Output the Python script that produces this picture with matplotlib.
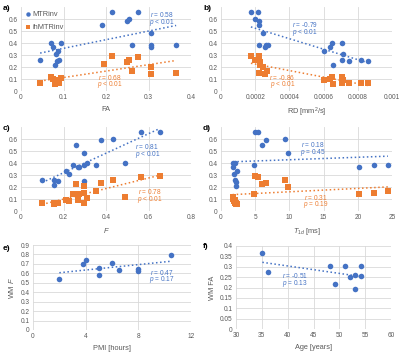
import numpy as np
import matplotlib
matplotlib.use("Agg")
import matplotlib.pyplot as plt

plt.rcParams['font.family'] = ['Liberation Sans', 'DejaVu Sans']
plt.rcParams['mathtext.fontset'] = 'custom'
plt.rcParams['mathtext.rm'] = 'Liberation Sans'
plt.rcParams['mathtext.it'] = 'Liberation Sans:italic'

BLUE = '#4472C4'
ORANGE = '#ED7D31'
GREY = '#595959'
FS = 4.7   # ticks, notes
LFS = 5.3  # axis labels, legend

# a) FA
fa_mtr_x = [0.045, 0.07, 0.075, 0.08, 0.083, 0.085, 0.088, 0.09, 0.093, 0.19, 0.215, 0.25, 0.255, 0.26, 0.275, 0.305, 0.305, 0.305, 0.365]
fa_mtr_y = [0.26, 0.40, 0.37, 0.22, 0.31, 0.25, 0.33, 0.26, 0.40, 0.55, 0.66, 0.585, 0.60, 0.385, 0.66, 0.485, 0.37, 0.38, 0.385]
fa_ih_x = [0.045, 0.07, 0.075, 0.08, 0.08, 0.085, 0.09, 0.09, 0.093, 0.195, 0.215, 0.25, 0.255, 0.26, 0.275, 0.305, 0.305, 0.365]
fa_ih_y = [0.07, 0.12, 0.10, 0.07, 0.06, 0.09, 0.08, 0.07, 0.11, 0.225, 0.29, 0.24, 0.26, 0.17, 0.285, 0.20, 0.145, 0.15]

# b) RD
rd_mtr_x = [0.000175, 0.000215, 0.000197, 0.00022, 0.00022, 0.000248, 0.000222, 0.000258, 0.000265, 0.000272, 0.000605, 0.00064, 0.00065, 0.000655, 0.00071, 0.000715, 0.000705, 0.00075, 0.00082, 0.00086]
rd_mtr_y = [0.66, 0.66, 0.60, 0.585, 0.55, 0.485, 0.385, 0.37, 0.38, 0.385, 0.33, 0.37, 0.40, 0.22, 0.40, 0.31, 0.255, 0.25, 0.26, 0.25]
rd_ih_x = [0.000175, 0.000197, 0.00022, 0.00023, 0.00023, 0.000222, 0.000248, 0.000258, 0.00027, 0.000605, 0.00064, 0.00065, 0.000655, 0.00071, 0.000715, 0.00071, 0.00075, 0.00082, 0.00086]
rd_ih_y = [0.29, 0.26, 0.29, 0.24, 0.22, 0.15, 0.20, 0.14, 0.165, 0.09, 0.10, 0.12, 0.06, 0.115, 0.09, 0.07, 0.07, 0.07, 0.07]

# c) F
f_x = [0.10, 0.153, 0.157, 0.176, 0.212, 0.228, 0.243, 0.257, 0.267, 0.273, 0.296, 0.296, 0.296, 0.312, 0.352, 0.376, 0.435, 0.49, 0.563, 0.652]
f_mtr_y = [0.26, 0.215, 0.26, 0.25, 0.33, 0.31, 0.38, 0.55, 0.37, 0.37, 0.385, 0.485, 0.25, 0.40, 0.385, 0.59, 0.60, 0.40, 0.66, 0.66]
f_ih_y = [0.065, 0.065, 0.06, 0.065, 0.09, 0.085, 0.14, 0.225, 0.095, 0.14, 0.07, 0.15, 0.205, 0.11, 0.165, 0.235, 0.26, 0.12, 0.285, 0.29]

# d) T1d
t1_mtr_x = [1.8, 1.8, 1.9, 2.0, 2.1, 2.2, 2.2, 2.3, 4.8, 5.0, 5.4, 6.0, 6.6, 9.3, 9.8, 20.2, 22.3, 24.4]
t1_mtr_y = [0.40, 0.37, 0.31, 0.26, 0.40, 0.24, 0.21, 0.33, 0.38, 0.66, 0.66, 0.55, 0.59, 0.60, 0.485, 0.37, 0.385, 0.385]
t1_ih_x = [1.7, 1.8, 1.9, 2.0, 2.1, 2.2, 2.2, 2.3, 4.8, 5.0, 5.4, 6.0, 6.6, 9.3, 9.8, 20.2, 22.3, 24.4]
t1_ih_y = [0.12, 0.10, 0.08, 0.07, 0.09, 0.06, 0.07, 0.06, 0.14, 0.29, 0.285, 0.225, 0.235, 0.26, 0.20, 0.14, 0.15, 0.165]

# e) PMI
pmi = [2.0, 3.8, 4.0, 5.0, 5.0, 6.0, 6.5, 8.0, 8.0, 10.5]
wm_f = [0.54, 0.70, 0.74, 0.655, 0.58, 0.71, 0.635, 0.645, 0.625, 0.79]

# f) Age
age = [35.1, 36.1, 48.1, 49.1, 51.1, 52.1, 53.1, 53.1, 54.1, 54.1]
wm_fa = [0.365, 0.275, 0.305, 0.215, 0.305, 0.25, 0.26, 0.195, 0.305, 0.255]

W, H = 400, 360
fig = plt.figure(figsize=(4, 3.6), dpi=100)


def mkax(l, t, r, b):
    ax = fig.add_axes([l / W, 1 - b / H, (r - l) / W, (b - t) / H])
    for s in ax.spines.values():
        s.set_visible(False)
    ax.grid(True, color='#d9d9d9', lw=0.6)
    ax.set_axisbelow(True)
    ax.tick_params(length=0, labelsize=FS, colors=GREY, pad=2.5)
    return ax


def trend(ax, x, y, c):
    x = np.asarray(x); y = np.asarray(y)
    k, b = np.polyfit(x, y, 1)
    xs = np.array([x.min(), x.max()])
    ax.plot(xs, k * xs + b, ls=':', color=c, lw=1.1)


def note(ax, x, y, r, p, c, dy):
    ax.text(x, y, '$r$ = ' + r, color=c, fontsize=FS, ha='center', va='center')
    ax.text(x, y - dy, '$p$ ' + p, color=c, fontsize=FS, ha='center', va='center')


def two(ax, x1, y1, x2, y2):
    ax.scatter(x1, y1, s=16, color=BLUE, marker='o', zorder=3, label='MTRinv', linewidths=0)
    ax.scatter(x2, y2, s=15, color=ORANGE, marker='s', zorder=3, label='ihMTRinv', linewidths=0)
    trend(ax, x1, y1, BLUE)
    trend(ax, x2, y2, ORANGE)
    ax.set_ylim(0, 0.7)
    ax.set_yticks(np.arange(0, 0.61, 0.1))
    ax.set_yticklabels(['0', '0.1', '0.2', '0.3', '0.4', '0.5', '0.6'])


# a
ax = mkax(21, 7, 191, 91)
two(ax, fa_mtr_x, fa_mtr_y, fa_ih_x, fa_ih_y)
ax.set_xlim(0, 0.4)
ax.set_xticks([0, 0.1, 0.2, 0.3, 0.4])
ax.set_xticklabels(['0', '0.1', '0.2', '0.3', '0.4'])
ax.set_xlabel('FA', fontsize=LFS, color=GREY, labelpad=3)
ax.legend(loc='upper left', fontsize=LFS, frameon=False, handletextpad=0.0,
          handlelength=1.0, borderaxespad=0.2, labelspacing=0.8, labelcolor=GREY,
          borderpad=0.3, markerscale=0.8)
note(ax, 0.332, 0.637, '0.58', '< 0.01', BLUE, 0.065)
note(ax, 0.21, 0.112, '0.68', '< 0.01', ORANGE, 0.062)

# b
ax = mkax(221, 7, 392, 91)
two(ax, rd_mtr_x, rd_mtr_y, rd_ih_x, rd_ih_y)
ax.set_xlim(0, 0.001)
ax.set_xticks([0, 0.0002, 0.0004, 0.0006, 0.0008, 0.001])
ax.set_xticklabels(['0', '0.0002', '0.0004', '0.0006', '0.0008', '0.001'])
ax.set_xlabel('RD [mm$^2$/s]', fontsize=LFS, color=GREY, labelpad=3)
note(ax, 0.00049, 0.556, '-0.79', '< 0.01', BLUE, 0.065)
note(ax, 0.00036, 0.112, '-0.86', '< 0.01', ORANGE, 0.062)

# c
ax = mkax(21, 127, 191, 211)
two(ax, f_x, f_mtr_y, f_x, f_ih_y)
ax.set_xlim(0, 0.8)
ax.set_xticks([0, 0.2, 0.4, 0.6, 0.8])
ax.set_xticklabels(['0', '0.2', '0.4', '0.6', '0.8'])
ax.set_xlabel('$F$', fontsize=LFS, color=GREY, labelpad=3)
note(ax, 0.595, 0.54, '0.81', '< 0.01', BLUE, 0.065)
note(ax, 0.605, 0.162, '0.78', '< 0.01', ORANGE, 0.068)

# d
ax = mkax(221, 127, 392, 211)
two(ax, t1_mtr_x, t1_mtr_y, t1_ih_x, t1_ih_y)
ax.set_xlim(0, 25)
ax.set_xticks([0, 5, 10, 15, 20, 25])
ax.set_xlabel('$T_{1d}$ [ms]', fontsize=LFS, color=GREY, labelpad=3)
note(ax, 13.4, 0.556, '0.18', '= 0.45', BLUE, 0.065)
note(ax, 13.9, 0.112, '0.31', '= 0.19', ORANGE, 0.062)

# e
ax = mkax(33, 245, 191, 330)
ax.scatter(pmi, wm_f, s=16, color=BLUE, zorder=3, linewidths=0)
trend(ax, pmi, wm_f, BLUE)
ax.set_xlim(0, 12)
ax.set_ylim(0, 0.9)
ax.set_xticks([0, 4, 8, 12])
ax.set_yticks(np.arange(0, 0.91, 0.1))
ax.set_yticklabels(['0', '0.1', '0.2', '0.3', '0.4', '0.5', '0.6', '0.7', '0.8', '0.9'])
ax.set_xlabel('PMI [hours]', fontsize=LFS, color=GREY, labelpad=3)
ax.set_ylabel('WM $F$', fontsize=LFS, color=GREY, labelpad=3)
note(ax, 9.8, 0.614, '0.47', '= 0.17', BLUE, 0.078)

# f
ax = mkax(236, 246, 391, 329)
ax.scatter(age, wm_fa, s=16, color=BLUE, zorder=3, linewidths=0)
trend(ax, age, wm_fa, BLUE)
ax.set_xlim(30, 60)
ax.set_ylim(0, 0.4)
ax.set_xticks([30, 35, 40, 45, 50, 55, 60])
ax.set_yticks(np.arange(0, 0.41, 0.05))
ax.set_yticklabels(['0', '0.05', '0.1', '0.15', '0.2', '0.25', '0.3', '0.35', '0.4'])
ax.set_xlabel('Age [years]', fontsize=LFS, color=GREY, labelpad=3)
ax.set_ylabel('WM FA', fontsize=LFS, color=GREY, labelpad=3)
note(ax, 41.4, 0.259, '-0.51', '= 0.13', BLUE, 0.038)

for lab, x, y in [('a)', 3, 8), ('b)', 203, 8), ('c)', 3, 128), ('d)', 203, 128),
                  ('e)', 3, 248), ('f)', 203, 247)]:
    fig.text(x / W, 1 - y / H, lab, fontsize=6, fontweight='bold', va='center', ha='left')

fig.savefig('out.png', dpi=100)
